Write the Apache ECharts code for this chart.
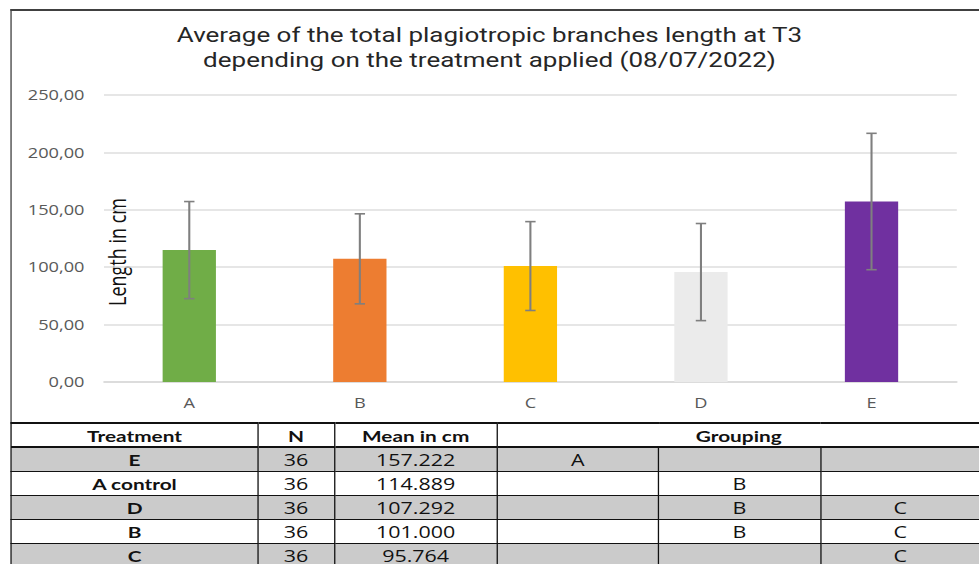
<!DOCTYPE html>
<html>
<head>
<meta charset="utf-8">
<script src="https://cdn.jsdelivr.net/npm/echarts@6/dist/echarts.min.js"></script>
<style>
  html, body { margin: 0; padding: 0; background: #fff; overflow: hidden; }
  #wrap { position: absolute; left: 0; top: 0; width: 753px; height: 564px; transform: scaleX(1.3); transform-origin: 0 0; overflow: hidden; }
  #main { position: absolute; left: 0; top: 0; width: 753px; height: 422px; }
  #frame { position: absolute; left: 8px; top: 9px; width: 760px; height: 413px; border-left: 1.6px solid #404040; border-top: 2px solid #404040; }
  #tbl { position: absolute; left: 8px; top: 422px; border-collapse: collapse; table-layout: fixed; width: 745.5px; }
  #tbl td { border: 1.5px solid #111; height: 23px; padding: 0; text-align: center; font-family: "Open Sans", sans-serif; font-size: 16.5px; color: #111; line-height: 21px; }
  #tbl td.b { font-family: Lato, sans-serif; font-weight: bold; font-size: 16px; }
  #tbl tr.g td { background: #cbcbcb; }
  #tbl tr.hd td { border-top: 2px solid #111; border-bottom: 2px solid #111; height: 22px; }
</style>
</head>
<body>
<div id="wrap">
  <div id="main"></div>
  <div id="frame"></div>
  <table id="tbl"></table>
</div>
<script>
// chart data
var categories = ['A', 'B', 'C', 'D', 'E'];
var means = [114.889, 107.292, 101.0, 95.764, 157.222];
var sds = [42.3, 39.2, 38.7, 42.3, 59.4];
var yTicks = [0, 50, 100, 150, 200, 250];

// table data
var tableHead = ['Treatment', 'N', 'Mean in cm', 'Grouping'];
var tableTreatment = ['E', 'A control', 'D', 'B', 'C'];
var tableN = ['36', '36', '36', '36', '36'];
var tableMean = ['157.222', '114.889', '107.292', '101.000', '95.764'];
var tableGroups = [['A', '', ''], ['', 'B', ''], ['', 'B', 'C'], ['', 'B', 'C'], ['', '', 'C']];

var palette = ['#70ad47', '#ed7d31', '#ffc000', '#ebebeb', '#7030a0'];

var myChart = echarts.init(document.getElementById('main'), null, {renderer: 'svg'});

var errData = [];
for (var i = 0; i < categories.length; i++) {
    errData.push([i, means[i] - sds[i], means[i] + sds[i]]);
}

var option = {
    animation: false,
    title: {
        text: 'Average of the total plagiotropic branches length at T3\ndepending on the treatment applied (08/07/2022)',
        left: 'center',
        top: 18,
        textStyle: {fontFamily: 'Roboto', fontSize: 20, fontWeight: 'normal', color: '#262626', lineHeight: 25}
    },
    grid: {left: 80, right: 17, top: 95, bottom: 40},
    xAxis: {
        type: 'category',
        data: categories,
        axisTick: {show: false},
        axisLine: {lineStyle: {color: '#d9d9d9', width: 1.5}},
        axisLabel: {color: '#595959', fontFamily: 'Open Sans', fontSize: 14, margin: 14}
    },
    yAxis: {
        type: 'value',
        min: yTicks[0],
        max: yTicks[yTicks.length - 1],
        interval: 50,
        axisLine: {show: false},
        axisTick: {show: false},
        splitLine: {lineStyle: {color: '#dedede', width: 1.5}},
        axisLabel: {
            color: '#595959', fontFamily: 'Open Sans', fontSize: 14, margin: 15,
            formatter: function (v) { return v.toFixed(2).replace('.', ','); }
        }
    },
    graphic: [{
        type: 'text',
        x: 90,
        y: 252,
        rotation: Math.PI / 2,
        style: {
            text: 'Length in cm',
            fontFamily: 'Open Sans', fontSize: 18, fill: '#111',
            textAlign: 'center', textVerticalAlign: 'middle'
        }
    }],
    series: [
        {
            type: 'bar',
            barWidth: 41,
            data: means.map(function (v, i) {
                return {value: v, itemStyle: {color: palette[i]}};
            })
        },
        {
            type: 'custom',
            data: errData,
            z: 10,
            renderItem: function (params, api) {
                var lo = api.coord([api.value(0), api.value(1)]);
                var hi = api.coord([api.value(0), api.value(2)]);
                var hw = 4;
                var st = {stroke: '#7f7f7f', lineWidth: 1.6};
                return {
                    type: 'group',
                    children: [
                        {type: 'line', shape: {x1: lo[0], y1: lo[1], x2: hi[0], y2: hi[1]}, style: st},
                        {type: 'line', shape: {x1: lo[0] - hw, y1: lo[1], x2: lo[0] + hw, y2: lo[1]}, style: st},
                        {type: 'line', shape: {x1: hi[0] - hw, y1: hi[1], x2: hi[0] + hw, y2: hi[1]}, style: st}
                    ]
                };
            }
        }
    ]
};
myChart.setOption(option);

// summary table under the chart (right edge sits at the picture's edge, as in the source)
var colW = [190, 58.5, 125.5, 124, 124.5, 123];
var html = '<colgroup>';
colW.forEach(function (w) { html += '<col style="width:' + w + 'px">'; });
html += '</colgroup>';
html += '<tr class="hd"><td class="b">' + tableHead[0] + '</td><td class="b">' + tableHead[1] +
    '</td><td class="b">' + tableHead[2] + '</td><td class="b" colspan="3">' + tableHead[3] + '</td></tr>';
for (var r = 0; r < tableTreatment.length; r++) {
    html += '<tr' + (r % 2 === 0 ? ' class="g"' : '') + '>';
    html += '<td class="b">' + tableTreatment[r] + '</td>';
    html += '<td>' + tableN[r] + '</td>';
    html += '<td>' + tableMean[r] + '</td>';
    for (var c = 0; c < 3; c++) {
        html += '<td>' + tableGroups[r][c] + '</td>';
    }
    html += '</tr>';
}
document.getElementById('tbl').innerHTML = html;
</script>
</body>
</html>
